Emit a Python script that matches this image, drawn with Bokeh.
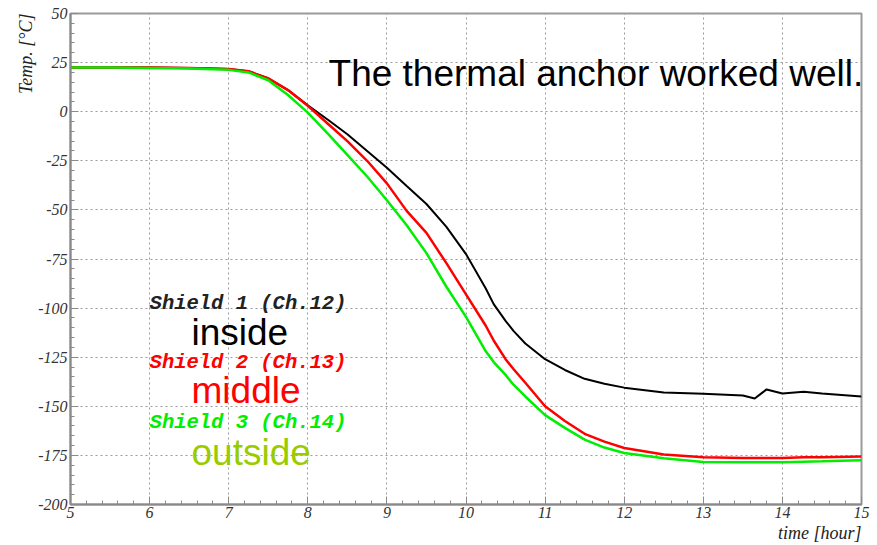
from bokeh.plotting import figure
from bokeh.models import Range1d, SingleIntervalTicker, Label, Title, PrintfTickFormatter
from bokeh.embed import file_html
from bokeh.resources import INLINE

# ---- data ----
time_h = [5.0, 5.5, 6.0, 6.5, 7.0, 7.25, 7.5, 7.75, 8.0, 8.25, 8.5, 8.75,
          9.0, 9.25, 9.5, 9.75, 10.0, 10.25, 10.35, 10.5, 10.6, 10.75, 11.0,
          11.25, 11.5, 11.75, 12.0, 12.5, 13.0, 13.5, 13.65, 13.8, 14.0,
          14.27, 14.5, 15.0]
shield1_inside = [22.5, 22.5, 22.5, 22.3, 21.8, 20.6, 17.0, 11.0, 3.2, -4.0,
                  -11.5, -20.0, -28.5, -37.8, -47.0, -58.5, -72.5, -90.0,
                  -98.0, -106.5, -111.6, -118.0, -126.0, -131.5, -136.0,
                  -138.5, -140.5, -143.0, -143.6, -144.5, -146.0, -141.4,
                  -143.5, -142.6, -143.5, -145.0]
shield2_middle = [22.5, 22.5, 22.5, 22.3, 21.8, 20.6, 17.0, 11.0, 3.0, -6.0,
                  -15.0, -25.0, -36.5, -50.5, -61.7, -77.0, -93.0, -109.0,
                  -116.5, -126.0, -131.0, -138.0, -150.0, -157.5, -164.0,
                  -168.0, -171.2, -174.5, -176.0, -176.3, -176.3, -176.3,
                  -176.3, -176.0, -176.0, -175.5]
shield3_outside = [22.5, 22.5, 22.3, 22.0, 21.3, 20.0, 16.0, 8.5, -0.5, -11.0,
                   -22.0, -33.0, -45.1, -57.8, -72.0, -89.0, -104.5, -122.0,
                   -127.5, -134.0, -139.0, -145.0, -154.5, -161.0, -167.0,
                   -171.0, -173.8, -176.5, -178.3, -178.5, -178.5, -178.5,
                   -178.5, -178.2, -178.0, -177.5]

series_names = ["Shield 1 (Ch.12)", "Shield 2 (Ch.13)", "Shield 3 (Ch.14)"]
series_tags = ["inside", "middle", "outside"]
title_text = "The thermal anchor worked well."
x_label = "time [hour]"
y_label = "Temp. [\u00b0C]"

# ---- figure ----
p = figure(width=877, height=545, output_backend="svg", toolbar_location=None,
           x_range=Range1d(5, 15), y_range=Range1d(-200, 50),
           min_border_left=70, min_border_right=16, min_border_top=13,
           min_border_bottom=41)
p.background_fill_color = "white"
p.border_fill_color = "white"
p.outline_line_color = "#9a9a9a"
p.outline_line_width = 2

axis_col = "#8a8a8a"
for ax in (p.xaxis[0], p.yaxis[0]):
    ax.axis_line_color = axis_col
    ax.axis_line_width = 2
    ax.major_tick_line_color = axis_col
    ax.minor_tick_line_color = axis_col
    ax.major_tick_in = 8
    ax.major_tick_out = 0
    ax.minor_tick_in = 4
    ax.minor_tick_out = 0
    ax.major_label_text_font = "Liberation Serif"
    ax.major_label_text_font_style = "italic"
    ax.major_label_text_font_size = "16px"
    ax.major_label_text_color = "#333333"
    ax.axis_label = None
    ax.formatter = PrintfTickFormatter(format="%d")

p.xaxis[0].ticker = SingleIntervalTicker(interval=1, num_minor_ticks=5)
p.yaxis[0].ticker = SingleIntervalTicker(interval=25, num_minor_ticks=5)
p.xaxis[0].major_label_standoff = 2
p.yaxis[0].major_label_standoff = 3

for g in (p.xgrid[0], p.ygrid[0]):
    g.grid_line_color = "#9a9a9a"
    g.grid_line_dash = "2 3"
    g.grid_line_width = 1

# ---- axis titles (ROOT style: at the far end) ----
p.add_layout(Title(text=x_label, align="right", text_font="Liberation Serif",
                   text_font_style="italic", text_font_size="18px",
                   text_color="#222222", standoff=0), "below")
p.add_layout(Title(text=y_label, align="right", text_font="Liberation Serif",
                   text_font_style="italic", text_font_size="18px",
                   text_color="#222222", standoff=0), "left")

# ---- curves ----
p.line(time_h, shield1_inside, line_color="black", line_width=2)
p.line(time_h, shield2_middle, line_color="#ff0000", line_width=2.5)
p.line(time_h, shield3_outside, line_color="#00ee00", line_width=2.5)

# ---- texts ----
p.add_layout(Label(x=8.262, y=19.5, text=title_text, text_font="Liberation Sans",
                   text_font_size="37px", text_color="black",
                   text_baseline="alphabetic"))

leg_cols = ["#222222", "#ff0000", "#00ee00"]
tag_cols = ["black", "#ff0000", "#99cc00"]
leg_y = [-97.5, -127.5, -158.2]
tag_y = [-112.6, -142.1, -173.6]
for name, tag, lc, tc, ly, ty in zip(series_names, series_tags, leg_cols,
                                     tag_cols, leg_y, tag_y):
    p.add_layout(Label(x=6.0, y=ly, text=name, text_font="Liberation Mono",
                       text_font_style="bold italic", text_font_size="20.5px",
                       text_color=lc, text_baseline="alphabetic"))
    p.add_layout(Label(x=6.53, y=ty, text=tag, text_font="Liberation Sans",
                       text_font_size="37px", text_color=tc,
                       text_baseline="alphabetic"))

open("out.html", "w").write(file_html(p, INLINE))
